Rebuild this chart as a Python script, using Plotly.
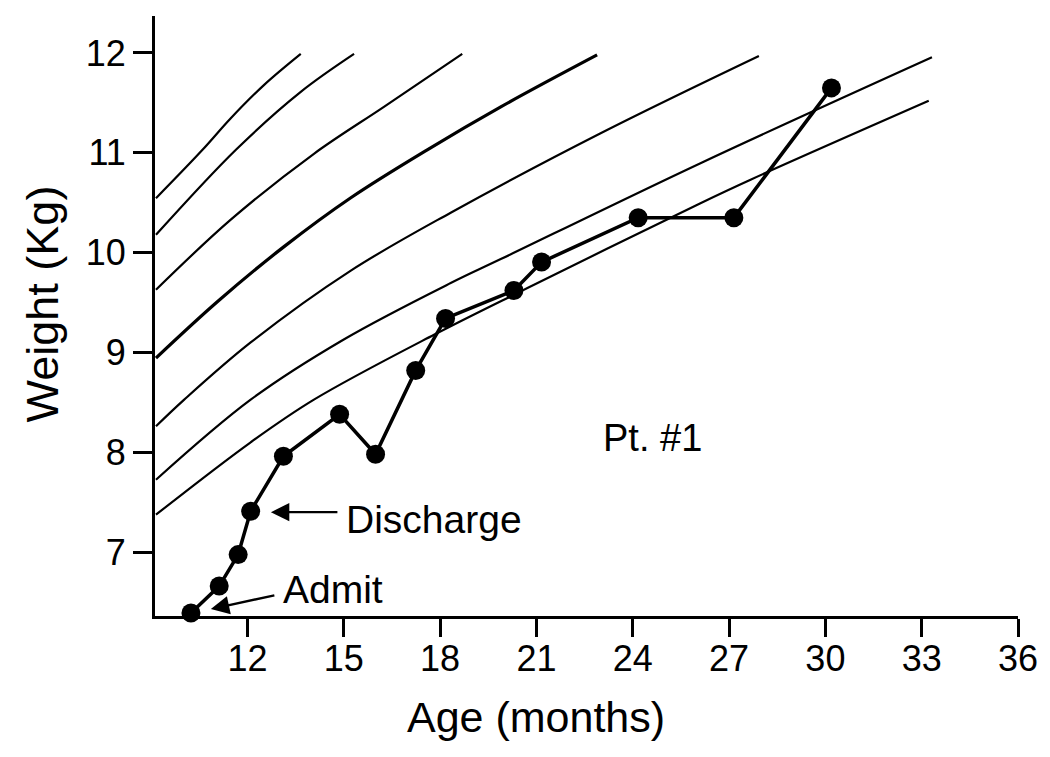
import plotly.graph_objects as go

# Reference growth curves (age in months, weight in kg)
curve_a_x = [9.15, 10.6, 11.48, 12.52, 13.66]
curve_a_y = [10.545, 11.03, 11.346, 11.68, 11.99]
curve_b_x = [9.15, 11.64, 13.66, 15.32]
curve_b_y = [10.178, 11.03, 11.61, 11.99]
curve_c_x = [9.15, 11.48, 14.07, 16.25, 18.69]
curve_c_y = [9.628, 10.33, 10.99, 11.46, 11.99]
curve_d_x = [9.15, 11.07, 13.14, 15.22, 17.6, 19.89, 22.89]
curve_d_y = [8.944, 9.51, 10.06, 10.55, 11.03, 11.46, 11.98]
curve_e_x = [9.15, 10.03, 12.1, 15.22, 18.33, 23.0, 27.93]
curve_e_y = [8.26, 8.527, 9.10, 9.82, 10.40, 11.196, 11.97]
curve_f_x = [9.15, 12.1, 15.0, 18.33, 19.89, 26.11, 33.32]
curve_f_y = [7.725, 8.527, 9.13, 9.695, 9.935, 10.896, 11.957]
curve_g_x = [9.15, 12.1, 14.07, 17.81, 20.72, 26.11, 27.67, 33.22]
curve_g_y = [7.375, 8.10, 8.527, 9.177, 9.645, 10.495, 10.73, 11.52]

# Patient #1 measurements
age = [10.24, 11.12, 11.71, 12.10, 13.12, 14.87, 15.99, 17.24, 18.17,
       20.30, 21.16, 24.17, 27.15, 30.19]
weight = [6.39, 6.66, 6.975, 7.41, 7.96, 8.38, 7.98, 8.82, 9.34,
          9.62, 9.905, 10.35, 10.35, 11.65]

x_ticks = [12, 15, 18, 21, 24, 27, 30, 33, 36]
y_ticks = [7, 8, 9, 10, 11, 12]

FONT = "Liberation Sans, Arial, Helvetica, sans-serif"

curves = [
    (curve_a_x, curve_a_y, 2.2),
    (curve_b_x, curve_b_y, 2.2),
    (curve_c_x, curve_c_y, 2.2),
    (curve_d_x, curve_d_y, 3.2),
    (curve_e_x, curve_e_y, 2.2),
    (curve_f_x, curve_f_y, 2.2),
    (curve_g_x, curve_g_y, 2.2),
]

fig = go.Figure()
for cx, cy, w in curves:
    fig.add_trace(go.Scatter(
        x=cx, y=cy, mode="lines",
        line=dict(color="black", width=w, shape="spline", smoothing=1.0),
        hoverinfo="skip", showlegend=False,
    ))

fig.add_trace(go.Scatter(
    x=age, y=weight, mode="lines+markers",
    line=dict(color="black", width=3.5),
    marker=dict(color="black", size=19),
    cliponaxis=False, showlegend=False,
))

annotations = [
    # Discharge arrow and label
    dict(x=12.73, y=7.40, xref="x", yref="y", text="",
         showarrow=True, arrowhead=2, arrowsize=1.6, arrowwidth=2.3,
         arrowcolor="black", ax=68, ay=0, standoff=0),
    dict(x=17.8, y=7.33, xref="x", yref="y", text="Discharge",
         showarrow=False, font=dict(family=FONT, size=39, color="black")),
    # Admit arrow and label
    dict(x=10.86, y=6.43, xref="x", yref="y", text="",
         showarrow=True, arrowhead=2, arrowsize=1.6, arrowwidth=2.3,
         arrowcolor="black", ax=65, ay=-14, standoff=0),
    dict(x=14.67, y=6.63, xref="x", yref="y", text="Admit",
         showarrow=False, font=dict(family=FONT, size=39, color="black")),
    # Patient label
    dict(x=24.6, y=8.14, xref="x", yref="y", text="Pt. #1",
         showarrow=False, font=dict(family=FONT, size=38, color="black")),
    # Axis titles
    dict(x=-0.1305, y=0.52, xref="paper", yref="paper", text="Weight (Kg)",
         textangle=-90, showarrow=False, xanchor="center", yanchor="middle",
         font=dict(family=FONT, size=45, color="black")),
    dict(x=0.441, y=-0.168, xref="paper", yref="paper", text="Age (months)",
         showarrow=False, xanchor="center", yanchor="middle",
         font=dict(family=FONT, size=43, color="black")),
]

# The page body adds an 8 px margin, so the figure is 8 px smaller
fig.update_layout(
    width=1042, height=749,
    margin=dict(l=147, r=32, t=8, b=141),
    paper_bgcolor="white", plot_bgcolor="white",
    annotations=annotations,
    font=dict(family=FONT, color="black"),
)

fig.update_xaxes(
    range=[9.12, 36], tickvals=x_ticks, ticktext=[str(v) for v in x_ticks],
    ticks="outside", ticklen=18, tickwidth=2.5, tickcolor="black",
    ticklabelstandoff=-9,
    showline=True, linecolor="black", linewidth=3, showgrid=False,
    zeroline=False, tickfont=dict(family=FONT, size=36, color="black"),
)
fig.update_yaxes(
    range=[6.36, 12.37], tickvals=y_ticks, ticktext=[str(v) for v in y_ticks],
    ticks="outside", ticklen=19, tickwidth=2.5, tickcolor="black",
    showline=True, linecolor="black", linewidth=3, showgrid=False,
    zeroline=False, tickfont=dict(family=FONT, size=36, color="black"),
)

fig.write_html("out.html")
